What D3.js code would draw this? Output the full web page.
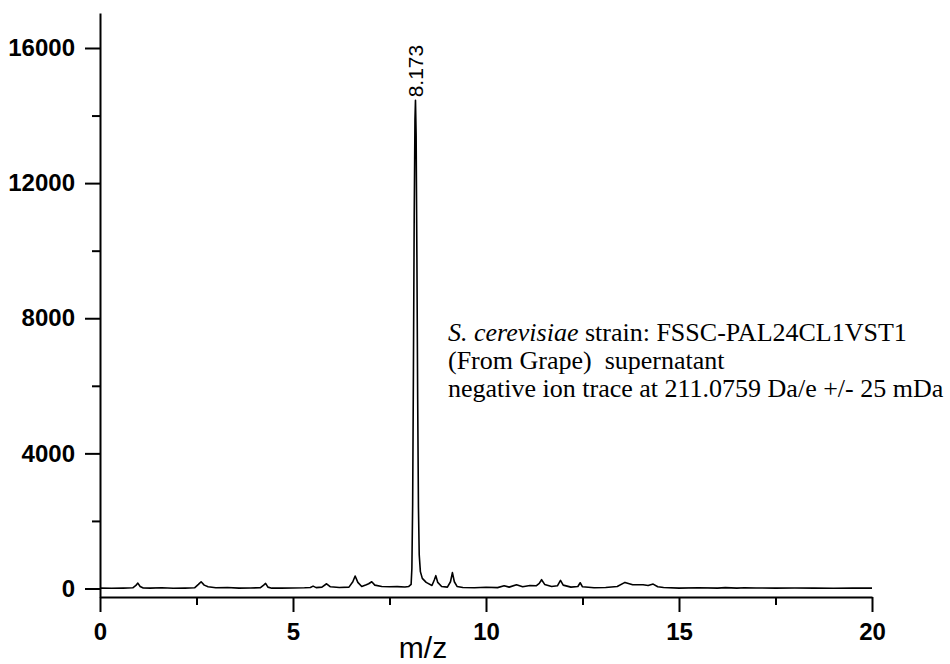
<!DOCTYPE html>
<html>
<head>
<meta charset="utf-8">
<script src="https://cdn.jsdelivr.net/npm/d3@7/dist/d3.min.js"></script>
<style>
  html, body { margin: 0; padding: 0; background: #fff; }
  svg { display: block; }
</style>
</head>
<body>
<svg id="chart" width="950" height="664"></svg>
<script>
// ---- Data ----
const retentionTimes = [0, 0.3, 0.6, 0.85, 0.93, 0.98, 1.04, 1.12, 1.3, 1.6, 1.9, 2.2, 2.45, 2.55, 2.62, 2.7, 2.8, 3.0, 3.3, 3.6, 3.9, 4.15, 4.24, 4.29, 4.35, 4.45, 4.7, 5.0, 5.3, 5.45, 5.52, 5.6, 5.75, 5.87, 5.97, 6.2, 6.45, 6.55, 6.61, 6.68, 6.78, 6.9, 6.96, 7.04, 7.12, 7.3, 7.5, 7.7, 7.9, 8.0, 8.06, 8.08, 8.10, 8.12, 8.14, 8.16, 8.173, 8.19, 8.21, 8.23, 8.25, 8.27, 8.30, 8.35, 8.45, 8.6, 8.66, 8.70, 8.75, 8.85, 9.0, 9.08, 9.13, 9.18, 9.25, 9.4, 9.7, 10.0, 10.3, 10.47, 10.6, 10.79, 10.95, 11.14, 11.3, 11.38, 11.44, 11.52, 11.7, 11.85, 11.93, 12.0, 12.2, 12.38, 12.44, 12.5, 12.8, 13.1, 13.4, 13.6, 13.8, 14.07, 14.2, 14.33, 14.45, 14.6, 15.0, 15.5, 16.0, 16.2, 16.5, 16.7, 17.0, 17.5, 18.0, 18.5, 19.0, 19.5, 20.0];
const intensities = [10, 5, 10, 20, 90, 160, 60, 15, 10, 20, 5, 10, 20, 120, 200, 100, 50, 20, 30, 10, 15, 20, 100, 150, 40, 10, 10, 15, 20, 30, 70, 25, 40, 140, 50, 30, 40, 200, 370, 180, 60, 110, 140, 200, 100, 60, 50, 55, 45, 60, 120, 600, 2500, 6500, 11000, 13900, 14450, 13400, 9800, 5600, 2400, 1000, 500, 300, 180, 90, 250, 380, 180, 60, 40, 200, 470, 200, 60, 30, 20, 35, 25, 80, 40, 110, 50, 90, 80, 150, 260, 120, 60, 80, 240, 100, 40, 60, 170, 50, 20, 30, 60, 180, 110, 110, 90, 130, 50, 30, 10, 20, 10, 25, 10, 20, 15, 10, 15, 10, 8, 10, 10];

const xMajorTicks = [0, 5, 10, 15, 20];
const xMinorTicks = [2.5, 7.5, 12.5, 17.5];
const yMajorTicks = [0, 4000, 8000, 12000, 16000];
const yMinorTicks = [2000, 6000, 10000, 14000];

const peakLabel = { t: 8.173, text: "8.173" };
const xAxisTitle = "m/z";
const noteLines = [
  [{ text: "S. cerevisiae", italic: true }, { text: " strain: FSSC-PAL24CL1VST1", italic: false }],
  [{ text: "(From Grape)\u00a0\u00a0supernatant", italic: false }],
  [{ text: "negative ion trace at 211.0759 Da/e +/- 25 mDa", italic: false }]
];

// ---- Layout ----
const svg = d3.select("#chart");
const x = d3.scaleLinear().domain([0, 20]).range([100, 872]);
const y = d3.scaleLinear().domain([-252, 17036]).range([597, 13]);

const sans = "'Liberation Sans', Arial, Helvetica, sans-serif";
const serif = "'Liberation Serif', 'Times New Roman', Times, serif";

// X axis (major)
const gx = svg.append("g").attr("transform", `translate(0,${y(-252)})`)
  .call(d3.axisBottom(x).tickValues(xMajorTicks).tickSize(15).tickSizeOuter(0).tickPadding(11).tickFormat(d3.format("d")));
// X axis minor
const gxm = svg.append("g").attr("transform", `translate(0,${y(-252)})`)
  .call(d3.axisBottom(x).tickValues(xMinorTicks).tickSize(8).tickFormat(""));
gxm.select(".domain").remove();

// Y axis (major)
const gy = svg.append("g").attr("transform", `translate(${x(0)},0)`)
  .call(d3.axisLeft(y).tickValues(yMajorTicks).tickSize(15).tickSizeOuter(0).tickPadding(10).tickFormat(d3.format("d")));
const gym = svg.append("g").attr("transform", `translate(${x(0)},0)`)
  .call(d3.axisLeft(y).tickValues(yMinorTicks).tickSize(8).tickFormat(""));
gym.select(".domain").remove();

svg.selectAll(".domain, .tick line").attr("stroke", "#000").attr("stroke-width", 2);
svg.selectAll(".tick text")
  .attr("font-family", sans).attr("font-size", 24).attr("font-weight", "bold").attr("fill", "#000");

// Trace
const pts = retentionTimes.map((t, i) => [t, intensities[i]]);
const line = d3.line().x(d => x(d[0])).y(d => y(d[1]));
svg.append("path").datum(pts)
  .attr("d", line).attr("fill", "none").attr("stroke", "#000")
  .attr("stroke-width", 1.6).attr("stroke-linejoin", "round");

// Peak label
svg.append("text")
  .attr("transform", `translate(${x(peakLabel.t) + 8},${y(14450) - 3}) rotate(-90)`)
  .attr("font-family", sans).attr("font-size", 21).attr("fill", "#000")
  .text(peakLabel.text);

// X axis title
svg.append("text").attr("x", 423).attr("y", 658).attr("text-anchor", "middle")
  .attr("font-family", sans).attr("font-size", 30).attr("fill", "#000")
  .text(xAxisTitle);

// Annotation
const note = svg.append("text").attr("font-family", serif).attr("font-size", 26).attr("fill", "#000");
noteLines.forEach((segs, i) => {
  segs.forEach((s, j) => {
    const ts = note.append("tspan").text(s.text).attr("font-style", s.italic ? "italic" : "normal");
    if (j === 0) ts.attr("x", 448).attr("y", 341 + i * 28);
  });
});
</script>
</body>
</html>
